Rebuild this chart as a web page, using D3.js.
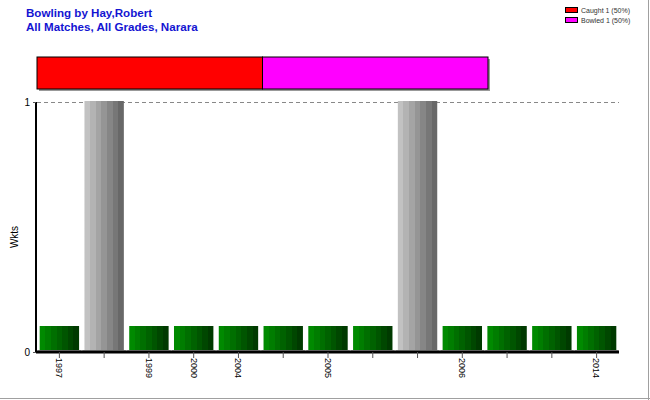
<!DOCTYPE html>
<html><head><meta charset="utf-8">
<script src="https://cdn.jsdelivr.net/npm/d3@7"></script>
<style>body{margin:0;background:#fff}svg{display:block;font-family:Arial,"Liberation Sans",sans-serif}</style>
</head><body><svg id="c" width="650" height="400"></svg>
<script>
const matches = ["m1","m2","m3","m4","m5","m6","m7","m8","m9","m10","m11","m12","m13"];
const yearLabels = ["1997","","1999","2000","2004","","2005","","","2006","","","2014"];
const wickets = [0,1,0,0,0,0,0,0,1,0,0,0,0];
const zeroMarker = 0.1;
const dismissalTypes = ["Caught","Bowled"];
const dismissalCounts = [1,1];
const dismissalColors = ["#ff0000","#ff00ff"];
const yTicks = [0,1];
const titleLines = ["Bowling by Hay,Robert","All Matches, All Grades, Narara"];

(function(){
const svg = d3.select("#c");
const defs = svg.append("defs");
function striped(id, c0, c1, n){
  const g = defs.append("linearGradient").attr("id",id).attr("x1","0").attr("x2","1").attr("y1","0").attr("y2","0");
  const ip = d3.interpolateRgb(c0,c1);
  for(let i=0;i<n;i++){
    const col = ip(i/(n-1));
    g.append("stop").attr("offset",(i/n)).attr("stop-color",col);
    g.append("stop").attr("offset",((i+1)/n)).attr("stop-color",col);
  }
}
striped("gGray","#c2c2c2","#686868",7);
striped("gGreen","#008a00","#003a00",7);

// border
svg.append("line").attr("x1",0).attr("x2",650).attr("y1",398.5).attr("y2",398.5).attr("stroke","#a0a0a0");
svg.append("line").attr("x1",648.5).attr("x2",648.5).attr("y1",0).attr("y2",400).attr("stroke","#a0a0a0");

// title
svg.selectAll("text.title").data(titleLines).join("text").attr("class","title")
  .attr("x",26).attr("y",(d,i)=>16.5+i*14).attr("fill","#1414d2")
  .attr("font-size",11.6).attr("font-weight","bold").text(d=>d);

// legend
const total = d3.sum(dismissalCounts);
const lg = svg.append("g");
dismissalTypes.forEach((t,i)=>{
  lg.append("rect").attr("x",565.5).attr("y",7.5+i*10).attr("width",12).attr("height",5)
    .attr("fill",dismissalColors[i]).attr("stroke","#000");
  lg.append("text").attr("x",581).attr("y",13+i*10).attr("font-size",7).attr("fill","#333")
    .text(`${t} ${dismissalCounts[i]} (${Math.round(dismissalCounts[i]/total*100)}%)`);
});

// dismissal bar
const xs = d3.scaleLinear().domain([0,total]).range([37,488]);
let cum = 0;
const segs = dismissalCounts.map((c,i)=>{const s={x0:cum,x1:cum+c,col:dismissalColors[i]};cum+=c;return s;});
svg.append("rect").attr("x",39).attr("y",59).attr("width",451).attr("height",32).attr("fill","#999");
svg.selectAll("rect.seg").data(segs).join("rect").attr("class","seg")
  .attr("x",d=>xs(d.x0)).attr("width",d=>xs(d.x1)-xs(d.x0)).attr("y",57).attr("height",32)
  .attr("fill",d=>d.col).attr("stroke","#000").attr("stroke-width",1);

// plot
const pL=37,pR=619,pT=102,pB=352;
const x = d3.scaleBand().domain(matches).range([pL,pR]).paddingInner(0.12).paddingOuter(0.06);
const y = d3.scaleLinear().domain([0,1]).range([pB,pT]);

// grid
svg.append("line").attr("x1",pL).attr("x2",pR).attr("y1",y(1)+0.5).attr("y2",y(1)+0.5)
  .attr("stroke","#888").attr("stroke-dasharray","4,3");

// bars
svg.selectAll("rect.bar").data(matches).join("rect").attr("class","bar")
  .attr("x",d=>x(d)).attr("width",x.bandwidth())
  .attr("y",(d,i)=>y(wickets[i]>0?wickets[i]:zeroMarker)-1)
  .attr("height",(d,i)=>pB-1-y(wickets[i]>0?wickets[i]:zeroMarker))
  .attr("fill",(d,i)=>wickets[i]>0?"url(#gGray)":"url(#gGreen)");
svg.selectAll("line.sh").data(matches).join("line").attr("class","sh")
  .attr("x1",d=>x(d)-2).attr("x2",d=>x(d)+x.bandwidth()+2).attr("y1",pB-1.5).attr("y2",pB-1.5)
  .attr("stroke","#bbb").attr("stroke-width",1);

// y axis
const ya = svg.append("g").attr("transform",`translate(${pL-1},0)`)
  .call(d3.axisLeft(y).tickValues(yTicks).tickFormat(d3.format("d")).tickSize(3).tickPadding(3));
ya.select(".domain").attr("stroke","#000").attr("stroke-width",2).attr("d",`M0,${pT}V${pB}`);
ya.selectAll("text").attr("font-size",10).attr("fill","#000").attr("font-family","Arial,'Liberation Sans',sans-serif");
ya.selectAll(".tick line").attr("stroke","#555");

// x axis
const xa = svg.append("g").attr("transform",`translate(0,${pB})`)
  .call(d3.axisBottom(x).tickSize(6).tickSizeOuter(0).tickFormat((d,i)=>yearLabels[i]));
xa.select(".domain").attr("stroke","#000").attr("stroke-width",3).attr("d",`M${pL-1},0H${pR}`);
xa.selectAll(".tick line").attr("stroke","#555");
xa.selectAll("text").attr("font-size",9).attr("fill","#000").attr("font-family","Arial,'Liberation Sans',sans-serif")
  .attr("transform","rotate(90)").attr("text-anchor","start").attr("dy","0.35em").attr("x",6).attr("y",0);

// y label
svg.append("text").attr("transform","translate(18,237) rotate(-90)").attr("text-anchor","middle")
  .attr("font-size",10).attr("fill","#000").text("Wkts");
})();
</script></body></html>
